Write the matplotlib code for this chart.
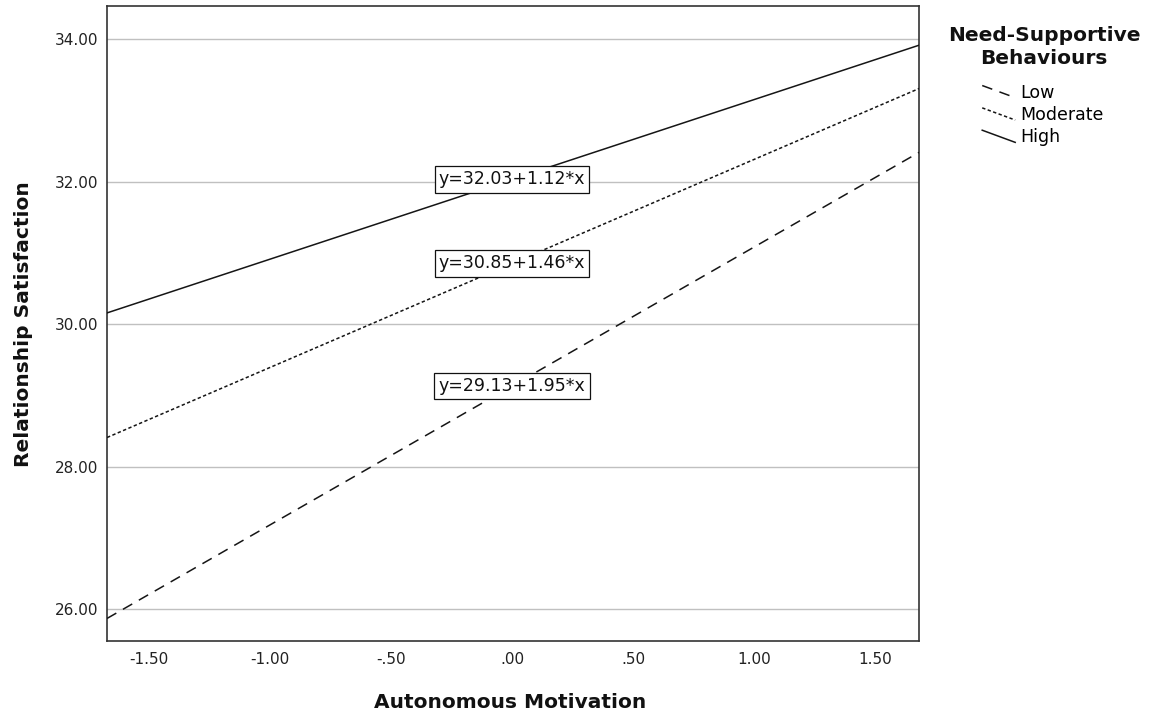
import numpy as np
import matplotlib
matplotlib.use('Agg')
import matplotlib.pyplot as plt
from matplotlib.lines import Line2D
from matplotlib.legend_handler import HandlerLine2D

# simple slopes of the moderation model
groups = ['Low', 'Moderate', 'High']
intercepts = [29.13, 30.85, 32.03]
slopes = [1.95, 1.46, 1.12]

x_ticks = [-1.5, -1.0, -0.5, 0.0, 0.5, 1.0, 1.5]
x_tick_labels = ['-1.50', '-1.00', '-.50', '.00', '.50', '1.00', '1.50']
y_ticks = [26, 28, 30, 32, 34]
y_tick_labels = ['26.00', '28.00', '30.00', '32.00', '34.00']

styles = {
	'Low': (0, (7.0, 5.0)),
	'Moderate': (0, (2.2, 1.6)),
	'High': '-',
}

class DiagonalHandler(HandlerLine2D):
	# SPSS draws the legend keys as short slanted strokes
	def create_artists(self, legend, orig_handle, xdescent, ydescent, width, height, fontsize, trans):
		line = Line2D([-xdescent, -xdescent + width], [height - ydescent, -ydescent])
		self.update_prop(line, orig_handle, legend)
		line.set_transform(trans)
		return [line]

plt.rcParams['font.family'] = ['DejaVu Sans']

fig = plt.figure(figsize=(11.51, 7.15), dpi=100)
ax = fig.add_axes([0.093, 0.1035, 0.7055, 0.888])

xlim = (-1.673, 1.682)
ax.set_xlim(*xlim)
ax.set_ylim(25.551, 34.463)

xs = np.array(xlim)
handles = []
for g, a, b in zip(groups, intercepts, slopes):
	h, = ax.plot(xs, a + b * xs, color='#151515', lw=1.1, linestyle=styles[g], label=g, zorder=3)
	handles.append(h)
	ax.text(0.0, a, 'y=%.2f+%.2f*x' % (a, b), ha='center', va='center', fontsize=12.5, color='#111111',
		bbox=dict(boxstyle='square,pad=0.24', fc='white', ec='#111111', lw=0.9), zorder=5)

ax.set_xticks(x_ticks)
ax.set_xticklabels(x_tick_labels)
ax.set_yticks(y_ticks)
ax.set_yticklabels(y_tick_labels)
ax.tick_params(length=0, labelsize=11, labelcolor='#222222')
ax.tick_params(axis='x', pad=8)
ax.tick_params(axis='y', pad=6)

ax.yaxis.grid(True, color='#c0c0c0', lw=1.0, zorder=0)
ax.set_axisbelow(True)
for s in ax.spines.values():
	s.set_color('#333333')
	s.set_linewidth(1.2)

ax.set_xlabel('Autonomous Motivation', fontsize=14.5, fontweight='bold', color='#111111')
ax.xaxis.set_label_coords(0.497, -0.0976)
ax.xaxis.label.set_verticalalignment('center')
ax.set_ylabel('Relationship Satisfaction', fontsize=14.5, fontweight='bold', color='#111111')
ax.yaxis.set_label_coords(-0.1034, 0.499)
ax.yaxis.label.set_verticalalignment('center')

# legend title drawn on its own so the gap to the keys matches SPSS
fig.text(1044 / 1151, 1 - 47 / 715, 'Need-Supportive\nBehaviours', ha='center', va='center',
	multialignment='center', fontsize=14.5, fontweight='bold', linespacing=1.25, color='#111111')

leg = fig.legend(handles=handles, labels=groups, loc='upper center', bbox_to_anchor=(1043 / 1151, 1 - 75 / 715),
	frameon=False, fontsize=12.5, handlelength=1.9, handletextpad=0.3,
	labelspacing=0.25, borderpad=0.0,
	handler_map={Line2D: DiagonalHandler()})

fig.savefig('out.png', dpi=100)
